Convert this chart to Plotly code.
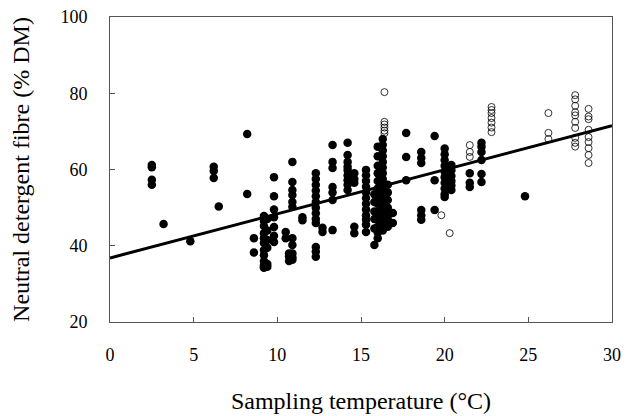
import plotly.graph_objects as go

# Filled points (temperature °C, NDF % DM)
filled_temp = (
    [2.5]*4 + [3.2] + [4.8] + [6.2]*3 + [6.5] + [8.2]*2 + [8.6]*2 +
    [9.2]*12 + [9.4]*6 + [9.8]*7 + [10.5]*2 + [10.7]*3 + [10.9]*11 +
    [11.5]*2 + [12.3]*13 + [12.7]*2 + [13.3]*7 + [14.2]*9 + [14.6]*5 +
    [15.3]*12 + [15.8]*6 + [16.0]*13 + [16.3]*17 + [16.6]*7 + [16.9]*2 +
    [17.7]*3 + [18.6]*6 + [19.4]*3 + [20.0]*10 + [20.4]*6 + [21.5]*3 +
    [22.2]*6 + [24.8]
)
filled_ndf = (
    [61.2, 60.6, 57.3, 56.0] + [45.7] + [41.2] + [60.7, 59.6, 57.8] + [50.3] +
    [69.3, 53.6] + [42.0, 38.2] +
    [47.8, 46.5, 45.2, 43.3, 42.0, 40.7, 38.9, 37.5, 36.0, 34.8, 34.4, 34.2] +
    [47.0, 44.0, 41.5, 39.5, 35.2, 34.5] +
    [58.0, 53.0, 49.5, 47.5, 44.9, 42.6, 41.0] +
    [43.6, 42.0] + [38.0, 36.0, 37.2] +
    [62.0, 56.7, 54.6, 53.3, 51.5, 50.2, 42.0, 40.2, 38.0, 36.3, 37.0] +
    [47.5, 46.7] +
    [59.0, 57.5, 56.0, 54.5, 53.0, 51.5, 50.0, 48.5, 47.0, 46.0, 39.7, 38.5, 37.1] +
    [44.7, 43.6] +
    [66.4, 62.0, 60.4, 55.4, 54.0, 52.0, 44.1] +
    [67.0, 63.8, 62.0, 60.7, 59.9, 58.5, 57.2, 56.0, 54.6] +
    [59.0, 57.5, 56.5, 45.0, 43.3] +
    [59.9, 58.5, 57.0, 55.5, 54.0, 52.5, 51.0, 49.5, 48.0, 46.8, 45.5, 43.6] +
    [40.2, 44.5, 47.0, 49.0, 51.5, 53.5] +
    [66.0, 63.5, 61.0, 59.0, 57.0, 55.0, 53.0, 51.0, 49.0, 47.0, 45.0, 43.5, 42.0] +
    [68.0, 66.5, 65.0, 63.5, 62.0, 60.5, 59.0, 57.5, 56.0, 54.5, 53.0, 51.5, 50.0,
     48.5, 47.0, 45.5, 44.0] +
    [56.0, 54.0, 52.0, 50.0, 48.5, 47.0, 45.0] +
    [48.6, 46.0] +
    [69.6, 63.3, 57.2] +
    [64.6, 63.0, 61.7, 49.4, 48.0, 46.8] +
    [68.8, 57.2, 49.4] +
    [65.5, 64.0, 62.5, 61.0, 59.5, 58.0, 56.5, 55.0, 53.5, 52.8] +
    [61.2, 59.8, 58.3, 57.0, 55.8, 54.6] +
    [59.0, 56.5, 55.4] +
    [67.0, 66.0, 64.6, 62.5, 58.8, 56.7] +
    [53.0]
)

# Open points
open_temp = (
    [16.4]*6 + [19.8] + [20.3] + [21.5]*3 + [22.8]*7 + [26.2]*3 +
    [27.8]*10 + [28.6]*9
)
open_ndf = (
    [80.3, 72.5, 71.8, 71.0, 70.2, 69.5] + [48.0] + [43.3] +
    [66.4, 64.6, 63.3] +
    [76.4, 75.6, 74.8, 73.5, 72.3, 71.0, 69.8] +
    [74.8, 69.6, 68.0] +
    [79.5, 78.4, 76.7, 75.0, 74.2, 72.5, 70.9, 68.3, 67.0, 66.0] +
    [75.9, 73.9, 73.2, 70.4, 68.5, 67.2, 65.6, 63.8, 61.7]
)

# Regression line endpoints
line_temp = [0, 30]
line_ndf = [36.8, 71.5]

x_ticks = [0, 5, 10, 15, 20, 25, 30]
y_ticks = [20, 40, 60, 80, 100]

fig = go.Figure()
fig.add_trace(go.Scatter(
    x=filled_temp, y=filled_ndf, mode="markers",
    marker=dict(symbol="circle", size=8.5, color="black", line=dict(width=0)),
    showlegend=False))
fig.add_trace(go.Scatter(
    x=open_temp, y=open_ndf, mode="markers",
    marker=dict(symbol="circle-open", size=7, color="black", line=dict(width=0.8)),
    showlegend=False))
fig.add_trace(go.Scatter(
    x=line_temp, y=line_ndf, mode="lines",
    line=dict(color="black", width=3), showlegend=False))

font = "Liberation Serif, Times New Roman, serif"
fig.update_layout(
    width=624, height=408,
    margin=dict(l=102, r=20, t=9, b=94),
    paper_bgcolor="white", plot_bgcolor="white",
    font=dict(family=font, color="black", size=18),
    xaxis=dict(
        range=[0, 30], tickvals=x_ticks, ticks="inside", ticklen=5,
        tickcolor="#555", showline=True, linecolor="#555", linewidth=1,
        mirror=True, showgrid=False, zeroline=False, automargin=False,
        ticklabelstandoff=16, ticklabeloverflow="allow",
        title=dict(text="Sampling temperature (°C)", font=dict(size=24), standoff=28),
    ),
    yaxis=dict(
        range=[20, 100], tickvals=y_ticks, ticks="inside", ticklen=5,
        tickcolor="#555", showline=True, linecolor="#555", linewidth=1,
        mirror=True, showgrid=False, zeroline=False, automargin=False,
        ticklabelstandoff=18, ticklabeloverflow="allow",
        title=dict(text="Neutral detergent fibre (% DM)", font=dict(size=24), standoff=25),
    ),
)

fig.write_html("out.html")
